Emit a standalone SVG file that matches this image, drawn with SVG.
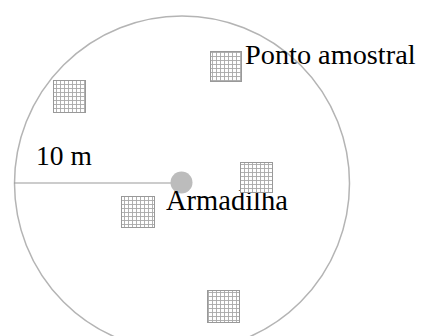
<svg xmlns="http://www.w3.org/2000/svg" width="421" height="336" viewBox="0 0 421 336">
<style>
.lbl{font-family:"Liberation Serif","Times New Roman",serif;font-size:28.5px;fill:#000}
.sq{fill:url(#grid);stroke:#999;stroke-width:1}
</style>
<defs>
<pattern id="grid" patternUnits="userSpaceOnUse" width="4" height="4">
<rect width="4" height="4" fill="#fff"/>
<path d="M0 0.5H4M0.5 0V4" stroke="#a8a8a8" stroke-width="0.9" fill="none"/>
</pattern>
</defs>
<rect width="421" height="336" fill="#fff"/>
<g id="area">
<circle cx="182" cy="183.5" r="167.5" fill="none" stroke="#b4b4b4" stroke-width="1.5"/>
</g>
<g id="connectors">
<line x1="14" y1="183" x2="172" y2="183" stroke="#999" stroke-width="1.2"/>
</g>
<g id="trap">
<circle cx="181.5" cy="182.5" r="11" fill="#bcbcbc"/>
<text class="lbl" x="166" y="210">Armadilha</text>
</g>
<g id="p1"><rect class="sq" x="210.5" y="51.5" width="31" height="30"/></g>
<g id="p2"><rect class="sq" x="53.5" y="80.5" width="32" height="32"/></g>
<g id="p3"><rect class="sq" x="240.5" y="162.5" width="32" height="30"/></g>
<g id="p4"><rect class="sq" x="121.5" y="196.5" width="33" height="31"/></g>
<g id="p5"><rect class="sq" x="207.5" y="290.5" width="32" height="32"/></g>
<g id="labels">
<text class="lbl" x="245" y="64" style="font-size:28.3px">Ponto amostral</text>
<text class="lbl" x="36" y="165" style="font-size:27.5px">10 m</text>
</g>
</svg>
